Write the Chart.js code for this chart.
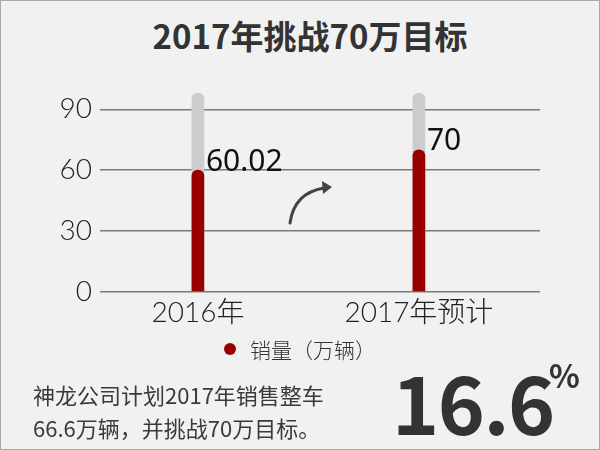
<!DOCTYPE html>
<html>
<head>
<meta charset="utf-8">
<script src="https://cdn.jsdelivr.net/npm/chart.js@4.4.1/dist/chart.umd.min.js"></script>
<style>
  html, body { margin: 0; padding: 0; }
  body { width: 600px; height: 450px; background: #f1f1f1; position: relative; overflow: hidden;
         font-family: "Noto Sans CJK SC", "Noto Sans", sans-serif; color: #333; }
  #frame { position: absolute; left: 0; top: 0; width: 600px; height: 450px; box-sizing: border-box;
           border: 1px solid #a8a8a8; pointer-events: none; }
  #title { position: absolute; left: 20px; width: 580px; top: 14px; text-align: center;
           font-size: 33px; font-weight: 700; color: #333; line-height: 42px; }
  #chartWrap { position: absolute; left: 0; top: 0; width: 600px; height: 450px; }
  #legend { position: absolute; left: 0; width: 600px; top: 335px; display: flex; justify-content: center;
            align-items: center; font-size: 21px; font-weight: 300; color: #333; line-height: 28px; }
  #legend .dot { width: 12px; height: 12px; border-radius: 50%; margin-right: 14px; }
  #note { position: absolute; left: 33px; top: 378px; font-size: 22px; line-height: 33px; color: #3a3a3a; font-weight: 400; }
  #big { position: absolute; left: 392px; top: 360px; font-size: 80px; line-height: 80px; font-weight: 700;
         color: #333; letter-spacing: -1.5px; }
  #pct { position: absolute; left: 549px; top: 354px; font-size: 32px; line-height: 40px; font-weight: 700; color: #333; }
  #arrow { position: absolute; left: 0; top: 0; }
</style>
</head>
<body>
<div id="title">2017年挑战70万目标</div>
<div id="chartWrap"><canvas id="c" width="600" height="450"></canvas></div>
<svg id="arrow" width="600" height="450">
  <path d="M 290 223 Q 294 193 324 188" fill="none" stroke="#444" stroke-width="3" stroke-linecap="round"/>
  <path d="M 322 181 L 332 187 L 323 194 Z" fill="#444"/>
</svg>
<div id="legend"></div>
<div id="note">神龙公司计划2017年销售整车<br>66.6万辆，并挑战70万目标。</div>
<div id="big">16.6</div>
<div id="pct">%</div>
<div id="frame"></div>
<script>
const categories = ['2016年', '2017年预计'];
const salesValues = [60.02, 70];
const trackValues = [98, 98];
const yTicks = [0, 30, 60, 90];
const seriesLabel = '销量（万辆）';
const seriesColor = '#990000';
const trackColor = '#cccccc';

const lightFont = '"Segoe UI", "Lato", "Noto Sans CJK SC", sans-serif';

const valueLabels = {
  id: 'valueLabels',
  afterDatasetsDraw(chart) {
    const meta = chart.getDatasetMeta(0);
    const ctx = chart.ctx;
    ctx.save();
    ctx.font = '400 30px "Noto Sans", "Open Sans", sans-serif';
    ctx.fillStyle = '#111';
    ctx.textAlign = 'left';
    ctx.textBaseline = 'middle';
    meta.data.forEach((bar, i) => {
      ctx.fillText(String(salesValues[i]), bar.x + bar.width / 2 + 2, bar.y - 8);
    });
    ctx.restore();
  }
};

const chart = new Chart(document.getElementById('c'), {
  type: 'bar',
  data: {
    datasets: [
      {
        label: seriesLabel,
        data: salesValues.map((v, i) => ({ x: i, y: v })),
        backgroundColor: seriesColor,
        barThickness: 12,
        borderRadius: 6,
        borderSkipped: 'start',
        grouped: false,
        order: 0
      },
      {
        label: 'track',
        data: trackValues.map((v, i) => ({ x: i, y: v })),
        backgroundColor: trackColor,
        barThickness: 12,
        borderRadius: 6,
        borderSkipped: 'start',
        grouped: false,
        order: 1
      }
    ]
  },
  options: {
    responsive: false,
    animation: false,
    layout: { padding: { top: 89, left: 0, right: 60, bottom: 118 } },
    plugins: { legend: { display: false }, tooltip: { enabled: false } },
    scales: {
      x: {
        type: 'linear',
        offset: false,
        min: -0.443,
        max: 1.548,
        grid: { display: false, drawTicks: false, offset: false },
        border: { display: false },
        afterBuildTicks: (s) => { s.ticks = categories.map((c, i) => ({ value: i })); },
        afterFit: (s) => { s.height = 40; },
        ticks: {
          padding: 4,
          color: '#222',
          font: { family: lightFont, size: 28, weight: 300 },
          callback: (v) => categories[v]
        }
      },
      y: {
        min: 0,
        max: 100,
        afterBuildTicks: (s) => { s.ticks = yTicks.map(v => ({ value: v })); },
        afterFit: (s) => { s.width = 100; },
        grid: { color: '#7a7a7a', lineWidth: 1.5, drawTicks: false },
        border: { display: false },
        ticks: {
          padding: 8,
          color: '#222',
          font: { family: lightFont, size: 28, weight: 300 }
        }
      }
    }
  },
  plugins: [valueLabels]
});

const legend = document.getElementById('legend');
const ds = chart.data.datasets[0];
legend.innerHTML = '<span class="dot" style="background:' + ds.backgroundColor + '"></span><span>' + ds.label + '</span>';
</script>
</body>
</html>
